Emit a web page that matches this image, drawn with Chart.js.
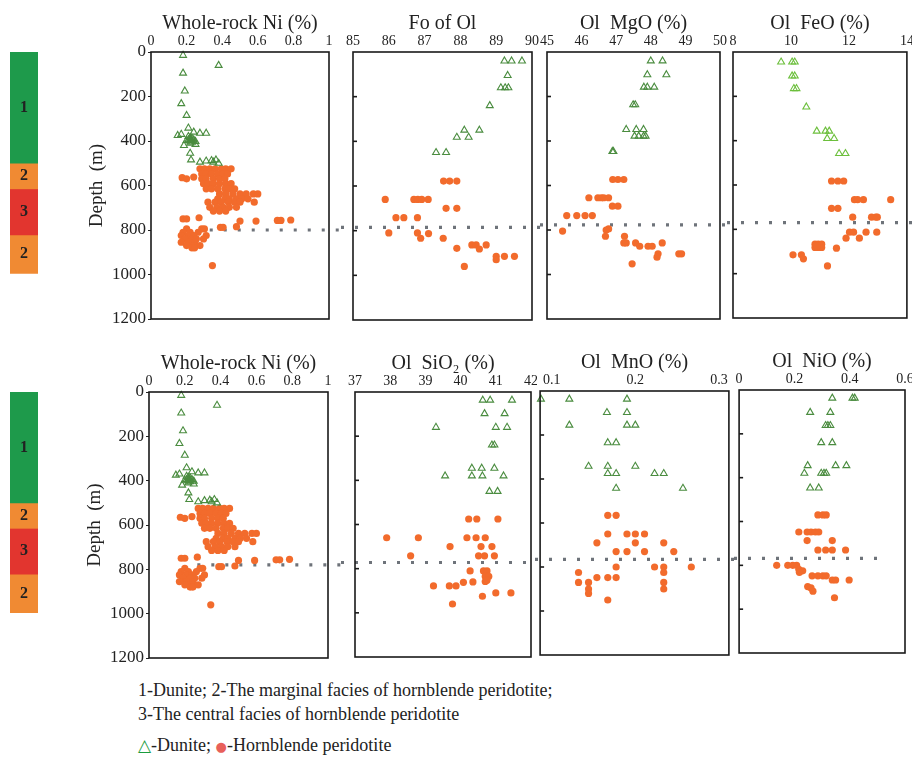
<!DOCTYPE html>
<html>
<head>
<meta charset="utf-8">
<script src="https://cdn.jsdelivr.net/npm/chart.js@4.4.1/dist/chart.umd.min.js"></script>
<style>
body { margin: 0; background: #fff; width: 912px; height: 759px; position: relative; overflow: hidden;
       font-family: "Liberation Serif", "Times New Roman", serif; color: #222; }
canvas { position: absolute; }
.note { position: absolute; left: 138px; font-size: 18px; line-height: 1; white-space: nowrap; }
.tri { color: #1a9c3e; font-weight: bold; font-family: "DejaVu Sans", sans-serif; font-size: 17px; }
.dot { color: #e8605a; font-family: "DejaVu Sans", sans-serif; font-size: 13px; }
</style>
</head>
<body>
<div class="note" style="top:681px">1-Dunite; 2-The marginal facies of hornblende peridotite;</div>
<div class="note" style="top:705px">3-The central facies of hornblende peridotite</div>
<div class="note" style="top:736px"><span class="tri">△</span>-Dunite; <span class="dot">●</span>-Hornblende peridotite</div>
<script>
const FONT = '"Liberation Serif", "Times New Roman", serif';

// depth axis and x tick labels
const depthTicks = [0, 200, 400, 600, 800, 1000, 1200];
const niTicks = [0, 0.2, 0.4, 0.6, 0.8, 1];
const foTicks = [85, 86, 87, 88, 89, 90];
const mgoTicks = [45, 46, 47, 48, 49, 50];
const feoTicks = [8, 10, 12, 14];
const sio2Ticks = [37, 38, 39, 40, 41, 42];
const mnoTicks = [0.1, 0.2, 0.3];
const mnoRange = [0.086, 0.312];
const nioTicks = [0, 0.2, 0.4, 0.6];

// facies column (depth intervals, m)
const faciesLabels = ['1', '2', '3', '2'];
const faciesTop = [0, 500, 615, 822];
const faciesBase = [500, 615, 822, 995];
const faciesColors = ['#1e9a4b', '#f08a33', '#e2352f', '#f08a33'];

// [value, depth m]
const niDunite = [[0.18,15],[0.38,60],[0.18,95],[0.19,175],[0.17,232],[0.20,285],[0.21,342],
  [0.15,375],[0.17,370],[0.24,360],[0.275,365],[0.31,365],
  [0.21,380],[0.22,385],[0.23,388],[0.22,392],[0.21,395],[0.23,398],[0.22,400],[0.24,395],
  [0.2,398],[0.23,405],[0.25,402],[0.185,420],[0.25,415],[0.22,410],
  [0.22,455],[0.225,485],[0.275,495],[0.31,490],[0.34,488],[0.365,485],[0.38,500],[0.35,495]];
const niHornblende = [
  [0.275,525],[0.30,525],[0.33,525],[0.36,525],[0.395,525],[0.42,525],[0.45,525],
  [0.285,548],[0.31,548],[0.34,548],[0.375,548],[0.405,548],[0.43,548],
  [0.175,565],[0.2,570],[0.24,562],[0.285,570],[0.31,570],[0.35,570],[0.385,570],[0.415,570],
  [0.295,592],[0.32,592],[0.35,592],[0.385,592],[0.42,592],[0.45,592],
  [0.31,615],[0.34,615],[0.375,615],[0.415,615],[0.44,615],[0.47,615],
  [0.385,638],[0.42,638],[0.46,638],[0.5,638],[0.535,638],[0.575,638],[0.6,638],
  [0.375,660],[0.415,660],[0.44,660],[0.48,660],[0.51,660],[0.545,660],
  [0.32,675],[0.36,675],[0.395,675],[0.435,675],[0.47,675],[0.5,675],[0.58,675],
  [0.33,698],[0.37,698],[0.405,698],[0.44,698],[0.48,698],
  [0.35,715],[0.385,715],[0.42,715],
  [0.18,750],[0.2,750],[0.27,745],
  [0.5,760],[0.59,760],[0.71,757],[0.73,757],[0.785,755],
  [0.39,788],[0.405,788],[0.48,785],
  [0.2,795],[0.285,795],[0.3,795],
  [0.18,810],[0.22,810],[0.265,810],
  [0.17,825],[0.21,825],[0.24,825],[0.31,825],
  [0.19,840],[0.23,840],[0.255,840],[0.295,840],
  [0.17,855],[0.21,855],[0.245,855],
  [0.2,870],[0.24,870],[0.275,870],
  [0.23,880],[0.245,880],
  [0.345,960]];

const foDunite = [[89.23,40],[89.43,40],[89.72,40],[89.32,105],[89.13,160],[89.25,160],[89.34,160],
  [88.82,240],[88.11,350],[88.53,350],[87.9,382],[88.23,382],[87.32,450],[87.6,450]];
const foHornblende = [[87.53,578],[87.7,578],[87.9,578],
  [85.9,660],[86.7,660],[86.81,660],[86.92,660],[87.1,660],
  [87.6,700],[87.9,700],[86.2,742],[86.42,742],[86.8,742],
  [86.0,810],[86.8,810],[87.11,813],[86.89,834],[87.52,834],
  [87.9,879],[88.32,864],[88.44,864],[88.53,882],[88.72,864],
  [89.0,915],[89.0,930],[89.23,915],[89.51,915],[88.11,960]];

const mgoDunite = [[48.0,40],[48.34,40],[47.9,102],[48.45,102],[47.8,158],[47.9,158],[48.1,158],
  [47.49,237],[47.55,237],[47.29,348],[47.58,348],[47.79,348],
  [47.53,378],[47.65,378],[47.79,378],[47.85,378],[46.89,447],[46.92,447]];
const mgoHornblende = [[46.9,573],[47.05,573],[47.22,573],
  [46.21,655],[46.47,655],[46.57,655],[46.64,655],[46.78,655],
  [46.89,693],[47.05,693],[45.57,735],[45.86,735],[46.1,735],[46.31,735],
  [45.45,805],[46.71,800],[46.78,795],[46.69,828],
  [47.24,828],[47.22,858],[47.29,858],[47.56,858],[47.68,873],[47.92,873],[48.04,873],[48.33,858],
  [48.21,907],[48.18,922],[48.81,907],[48.89,907],[47.46,952]];

const feoDunite = [[9.66,45],[10.04,45],[10.13,45],[10.04,108],[10.13,108],[10.1,165],[10.19,165],
  [10.53,248],[10.89,357],[11.19,357],[11.32,357],[11.25,390],[11.49,390],[11.66,458],[11.88,458]];
const feoHornblende = [[11.4,582],[11.62,582],[11.82,582],
  [12.19,666],[12.3,666],[12.5,666],[13.44,666],[11.4,705],[11.62,705],
  [12.13,745],[12.78,745],[12.93,745],[12.98,745],
  [12.02,813],[12.16,813],[12.59,813],[12.96,813],[11.9,840],[12.36,840],
  [10.83,867],[10.94,867],[11.06,867],[10.83,882],[10.94,882],[11.06,882],[10.9,875],
  [11.57,885],[10.07,915],[10.36,915],[10.43,933],[11.26,965]];

const sio2Dunite = [[40.63,37],[40.84,37],[41.46,37],[40.68,98],[41.25,98],[39.3,160],[41.0,160],[41.32,160],
  [40.89,240],[40.96,240],[40.32,345],[40.6,345],[40.96,345],
  [39.56,380],[40.32,380],[40.62,380],[41.22,380],[40.82,450],[41.05,450]];
const sio2Hornblende = [[40.23,575],[40.46,575],[41.06,575],
  [37.9,660],[38.8,660],[40.18,660],[40.44,660],[40.7,660],
  [39.7,700],[40.58,700],[40.89,700],[38.58,742],[40.51,742],[40.68,742],[40.96,742],
  [40.27,810],[40.65,810],[40.75,810],[40.7,835],[40.8,835],
  [40.35,860],[40.08,862],[40.7,858],[40.75,853],
  [39.23,878],[39.68,878],[39.87,878],[40.62,925],[41.0,910],[41.43,910],[39.77,960]];

const mnoDunite = [[0.087,37],[0.121,37],[0.19,37],[0.166,98],[0.19,98],[0.121,155],[0.19,155],[0.2,155],
  [0.167,235],[0.177,235],[0.144,342],[0.167,342],[0.2,342],
  [0.167,375],[0.177,375],[0.223,375],[0.234,375],[0.177,442],[0.257,442]];
const mnoHornblende = [[0.167,565],[0.177,565],
  [0.167,650],[0.19,650],[0.2,650],[0.211,650],[0.154,690],[0.2,690],[0.234,690],
  [0.177,730],[0.19,730],[0.211,730],[0.246,730],
  [0.177,800],[0.223,800],[0.234,800],[0.267,800],[0.132,825],[0.234,825],
  [0.154,848],[0.167,848],[0.177,848],[0.132,870],[0.144,870],[0.234,870],
  [0.144,900],[0.144,920],[0.234,900],[0.167,950]];

const nioDunite = [[0.337,37],[0.41,37],[0.418,37],[0.257,102],[0.33,102],[0.313,162],[0.321,162],[0.33,162],
  [0.297,240],[0.337,240],[0.248,345],[0.349,345],[0.388,345],
  [0.236,380],[0.297,380],[0.307,380],[0.315,380],[0.257,447],[0.288,447]];
const nioHornblende = [[0.285,570],[0.303,570],[0.315,570],
  [0.216,648],[0.246,648],[0.26,648],[0.276,648],[0.288,648],[0.246,687],[0.337,687],
  [0.285,730],[0.313,730],[0.337,730],[0.385,730],
  [0.136,800],[0.176,800],[0.194,800],[0.208,800],[0.216,818],[0.23,825],[0.218,832],
  [0.264,848],[0.285,848],[0.303,848],[0.315,848],[0.337,867],[0.349,867],[0.398,867],
  [0.248,897],[0.26,903],[0.267,918],[0.345,948]];

// box = plot area [left, top, right, bottom], cx = canvas x extent
const panels = [
  { title: 'Whole-rock Ni (%)', dun: niDunite, hbl: niHornblende, ticks: niTicks, depth: true,
    box: [151, 52, 329, 319], cx: [60, 341], line: { depth: 800, from: 0.33 } },
  { title: 'Fo of Ol', dun: foDunite, hbl: foHornblende, ticks: foTicks,
    box: [353, 52, 532, 320], cx: [341, 540], line: { depth: 785 } },
  { title: 'Ol  MgO (%)', dun: mgoDunite, hbl: mgoHornblende, ticks: mgoTicks,
    box: [547, 52, 720, 319], cx: [540, 727], line: { depth: 777 } },
  { title: 'Ol  FeO (%)', dun: feoDunite, hbl: feoHornblende, ticks: feoTicks, tri: '#6cbf3c',
    box: [733, 52, 910, 318], cx: [727, 912], line: { depth: 770 } },
  { title: 'Whole-rock Ni (%)', dun: niDunite, hbl: niHornblende, ticks: niTicks, depth: true,
    box: [149, 392, 328, 658], cx: [58, 341], line: { depth: 780, from: 0.27 } },
  { title: 'Ol  SiO\u2082 (%)', dun: sio2Dunite, hbl: sio2Hornblende, ticks: sio2Ticks,
    box: [355, 392, 531, 657], cx: [341, 537], line: { depth: 772 } },
  { title: 'Ol  MnO (%)', dun: mnoDunite, hbl: mnoHornblende, ticks: mnoTicks, range: mnoRange,
    box: [540, 391, 730, 655], cx: [535, 734], line: { depth: 765 } },
  { title: 'Ol  NiO (%)', dun: nioDunite, hbl: nioHornblende, ticks: nioTicks,
    box: [738, 390, 905, 653], cx: [734, 912], line: { depth: 768, to: 0.53 } }
];

function toXY(arr) { return arr.map(d => ({ x: d[0], y: d[1] })); }

function makePanel(p) {
  const c = document.createElement('canvas');
  const top = p.box[1] - 52, bottom = p.box[3] + 12;
  const axisW = p.depth ? 91 : 0;
  const padL = p.box[0] - p.cx[0] - axisW, padR = p.cx[1] - p.box[2];
  c.width = p.cx[1] - p.cx[0];
  c.height = bottom - top;
  c.style.left = p.cx[0] + 'px';
  c.style.top = top + 'px';
  document.body.appendChild(c);
  const xr = p.range || [p.ticks[0], p.ticks[p.ticks.length - 1]];

  const boundary = {
    id: 'boundary',
    beforeDatasetsDraw(chart) {
      const { ctx, scales: { x, y } } = chart;
      const py = y.getPixelForValue(p.line.depth);
      const x0 = p.line.from != null ? x.getPixelForValue(p.line.from) : 0;
      const x1 = p.line.to != null ? x.getPixelForValue(p.line.to) : chart.width;
      ctx.save();
      ctx.setLineDash([3, 11]);
      ctx.lineWidth = 3.2;
      ctx.strokeStyle = '#6e737a';
      ctx.beginPath();
      ctx.moveTo(x0, py);
      ctx.lineTo(x1, py);
      ctx.stroke();
      ctx.restore();
    }
  };
  const frame = {
    id: 'frame',
    afterDatasetsDraw(chart) {
      const { ctx, chartArea: a, scales: { y } } = chart;
      ctx.save();
      ctx.strokeStyle = '#1a1a1a';
      ctx.lineWidth = 1.6;
      ctx.strokeRect(a.left, a.top, a.right - a.left, a.bottom - a.top);
      if (!p.depth) {
        depthTicks.slice(1, -1).forEach(v => {
          const py = y.getPixelForValue(v);
          ctx.beginPath();
          ctx.moveTo(a.left, py);
          ctx.lineTo(a.left + 4, py);
          ctx.stroke();
        });
      }
      ctx.restore();
    }
  };

  new Chart(c, {
    type: 'scatter',
    data: {
      datasets: [
        { label: 'Dunite', data: toXY(p.dun), pointStyle: 'triangle', pointRadius: 4,
          borderWidth: 1.1, borderColor: p.tri || '#4a8c3f', backgroundColor: 'rgba(0,0,0,0)', clip: false },
        { label: 'Hornblende peridotite', data: toXY(p.hbl), pointStyle: 'circle', pointRadius: 3.6,
          borderWidth: 0, backgroundColor: '#f26b2c', clip: false }
      ]
    },
    options: {
      responsive: false,
      animation: false,
      events: [],
      layout: { padding: { left: padL, right: padR, top: 0, bottom: 12 } },
      plugins: { legend: { display: false }, tooltip: { enabled: false } },
      scales: {
        x: {
          type: 'linear', position: 'top', min: xr[0], max: xr[1],
          afterBuildTicks: s => { s.ticks = p.ticks.map(v => ({ value: v })); },
          afterFit: s => { s.height = 52; s.paddingLeft = 0; s.paddingRight = 0; },
          ticks: { font: { family: FONT, size: 14 }, color: '#222', padding: 2, maxRotation: 0,
                   autoSkip: false, callback: v => String(v) },
          grid: { display: false, drawTicks: false },
          border: { display: false },
          title: { display: true, text: p.title, font: { family: FONT, size: 20 }, color: '#222',
                   padding: { top: 12, bottom: 0 } }
        },
        y: {
          type: 'linear', reverse: true, min: 0, max: 1200,
          afterBuildTicks: s => { s.ticks = depthTicks.map(v => ({ value: v })); },
          afterFit: s => { s.width = axisW; s.paddingTop = 0; s.paddingBottom = 0; },
          ticks: { display: !!p.depth, font: { family: FONT, size: 17 }, color: '#222', padding: 2,
                   callback: v => String(v) },
          grid: { display: !!p.depth, drawOnChartArea: false, drawTicks: true, tickLength: 3, color: '#222' },
          border: { display: false },
          title: { display: !!p.depth, text: 'Depth  (m)', font: { family: FONT, size: 19 }, color: '#222',
                   padding: { top: 26, bottom: 0 } }
        }
      }
    },
    plugins: [boundary, frame]
  });
}

const stripLabels = {
  id: 'stripLabels',
  afterDatasetsDraw(chart) {
    const ctx = chart.ctx;
    ctx.save();
    ctx.font = 'bold 16px ' + FONT;
    ctx.fillStyle = '#222';
    ctx.textAlign = 'center';
    ctx.textBaseline = 'middle';
    chart.data.datasets.forEach((ds, i) => {
      const el = chart.getDatasetMeta(i).data[0];
      ctx.fillText(ds.label, el.x, (el.y + el.base) / 2);
    });
    ctx.restore();
  }
};

function makeStrip(top, bottom) {
  const c = document.createElement('canvas');
  c.width = 28;
  c.height = bottom - top;
  c.style.left = '10px';
  c.style.top = top + 'px';
  document.body.appendChild(c);
  new Chart(c, {
    type: 'bar',
    data: {
      labels: ['facies'],
      datasets: faciesLabels.map((l, i) => ({
        label: l, data: [[faciesTop[i], faciesBase[i]]], backgroundColor: faciesColors[i],
        borderWidth: 0, grouped: false, barPercentage: 1, categoryPercentage: 1
      }))
    },
    options: {
      responsive: false, animation: false, events: [],
      layout: { padding: 0 },
      plugins: { legend: { display: false }, tooltip: { enabled: false } },
      scales: {
        x: { display: false },
        y: { display: false, reverse: true, min: 0, max: 1200 }
      }
    },
    plugins: [stripLabels]
  });
}

panels.forEach(makePanel);
makeStrip(52, 319);
makeStrip(392, 658);
</script>
</body>
</html>
